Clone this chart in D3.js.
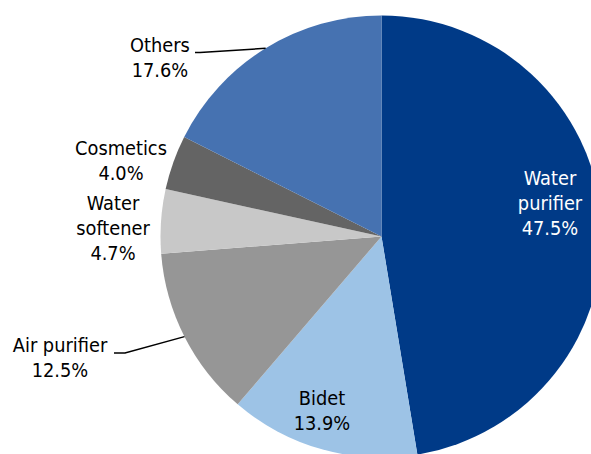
<!DOCTYPE html>
<html>
<head>
<meta charset="utf-8">
<script src="https://cdn.jsdelivr.net/npm/d3@7"></script>
<style>
  html, body { margin: 0; padding: 0; background: #fff; }
  svg { display: block; }
  text { font-family: "DejaVu Sans Condensed", "DejaVu Sans", sans-serif; font-size: 19.8px; }
</style>
</head>
<body>
<svg id="chart" width="591" height="454"></svg>
<script>
// Sales share by product category (%), clockwise from 12 o'clock
const categories = ["Water purifier", "Bidet", "Air purifier", "Water softener", "Cosmetics", "Others"];
const shares = [47.5, 13.9, 12.5, 4.7, 4.0, 17.6];
const labelLines = [["Water", "purifier"], ["Bidet"], ["Air purifier"], ["Water", "softener"], ["Cosmetics"], ["Others"]];
const colors = ["#003A87", "#9DC3E6", "#969696", "#C8C8C8", "#646464", "#4672B1"];

// label anchor (centre of the text block's first line) and text colour
const labelLayout = [
  { x: 550, y: 178, fill: "#fff" },
  { x: 322, y: 398, fill: "#000" },
  { x: 60,  y: 345, fill: "#000" },
  { x: 113, y: 203, fill: "#000" },
  { x: 121, y: 148, fill: "#000" },
  { x: 160, y: 45,  fill: "#000" }
];
// leader lines: start at text edge, short elbow, then to slice mid-angle on rim
const leaders = { 2: [[114, 353], [125, 353]], 5: [[195, 52.5], [200, 52.5]] };

const cx = 381.5, cy = 236.5, radius = 221;
const lineH = 25;

const svg = d3.select("#chart");
const g = svg.append("g").attr("transform", `translate(${cx},${cy})`);

const pie = d3.pie().sort(null).value(d => d);
const arcs = pie(shares);
const arc = d3.arc().innerRadius(0).outerRadius(radius);

g.selectAll("path.slice")
  .data(arcs)
  .join("path")
  .attr("class", "slice")
  .attr("d", arc)
  .attr("fill", (d, i) => colors[i]);

const fmt = d3.format(".1f");

// labels
arcs.forEach((d, i) => {
  const L = labelLayout[i];
  const t = svg.append("text")
    .attr("text-anchor", "middle")
    .attr("fill", L.fill);
  const lines = labelLines[i].concat([fmt(shares[i]) + "%"]);
  lines.forEach((s, k) => {
    t.append("tspan")
      .attr("x", L.x)
      .attr("y", L.y + k * lineH)
      .attr("dy", "0.36em")
      .text(s);
  });
});

// leader lines
Object.keys(leaders).forEach(key => {
  const i = +key;
  const d = arcs[i];
  const mid = (d.startAngle + d.endAngle) / 2;
  const rim = [cx + radius * Math.sin(mid), cy - radius * Math.cos(mid)];
  const pts = leaders[key].concat([rim]);
  svg.append("path")
    .attr("d", d3.line()(pts))
    .attr("fill", "none")
    .attr("stroke", "#000")
    .attr("stroke-width", 1.5);
});
</script>
</body>
</html>
